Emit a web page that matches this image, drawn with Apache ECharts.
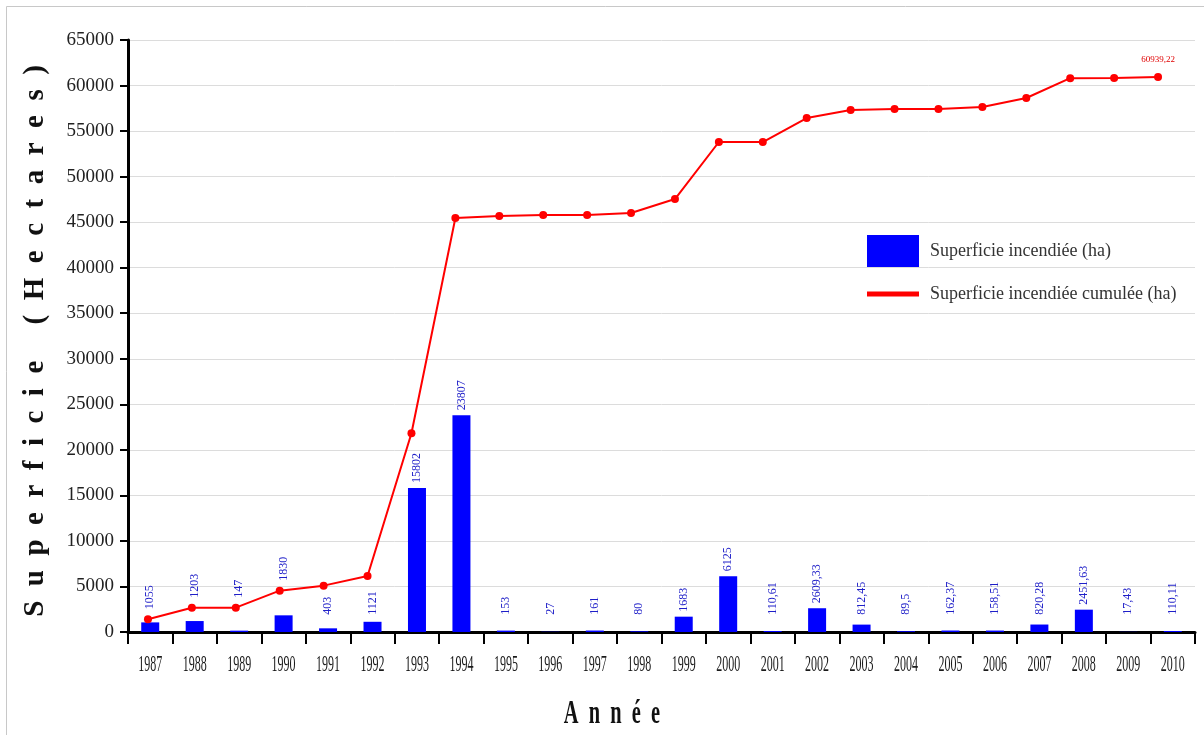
<!DOCTYPE html>
<html>
<head>
<meta charset="utf-8">
<script src="https://cdn.jsdelivr.net/npm/echarts@6/dist/echarts.min.js"></script>
<style>
html,body{margin:0;padding:0;background:#fff;}
#main{width:1204px;height:735px;}
</style>
</head>
<body>
<div id="main"></div>
<script>
// ---- data ----
const years = ['1987','1988','1989','1990','1991','1992','1993','1994','1995','1996','1997','1998','1999','2000','2001','2002','2003','2004','2005','2006','2007','2008','2009','2010'];
const burned = [1055, 1203, 147, 1830, 403, 1121, 15802, 23807, 153, 27, 161, 80, 1683, 6125, 110.61, 2609.33, 812.45, 89.5, 162.37, 158.51, 820.28, 2451.63, 17.43, 110.11];
const cumulative = [1400, 2670, 2670, 4540, 5090, 6150, 21820, 45450, 45670, 45780, 45780, 46000, 47540, 53800, 53800, 56430, 57310, 57420, 57420, 57640, 58630, 60810, 60830, 60939.22];
const yMin = 0, yMax = 65000, yStep = 5000;
const barName = 'Superficie incendiée (ha)';
const lineName = 'Superficie incendiée cumulée (ha)';
const yTitle = 'Superficie (Hectares)';
const xTitle = 'Année';

const fmt = v => String(v).replace('.', ',');
const serif = '"Liberation Serif", "Times New Roman", serif';

const chart = echarts.init(document.getElementById('main'), null, {renderer: 'canvas'});

const option = {
  animation: false,
  backgroundColor: '#fff',
  grid: [
    {left: 128, top: 40, width: 1067, height: 592},
    {left: 126, top: 40, width: 1054, height: 592}
  ],
  legend: [
    {data: [barName], left: 862, top: 230, itemWidth: 52, itemHeight: 32, icon: 'rect',
     textStyle: {fontFamily: serif, fontSize: 18, color: '#333', padding: [0,0,0,6]}},
    {data: [lineName], left: 862, top: 280, itemWidth: 52, itemHeight: 5, icon: 'rect',
     textStyle: {fontFamily: serif, fontSize: 18, color: '#333', padding: [0,0,0,6]}}
  ],
  xAxis: [
    {type: 'category', data: years, gridIndex: 0, boundaryGap: true,
     axisLine: {lineStyle: {color: '#000', width: 3}},
     axisTick: {show: true, length: 12, alignWithLabel: false, lineStyle: {color: '#000', width: 2}},
     axisLabel: {show: false}, splitLine: {show: false}},
    {type: 'category', data: years, gridIndex: 1, show: false, boundaryGap: true}
  ],
  yAxis: [
    {type: 'value', gridIndex: 0, min: yMin, max: yMax, interval: yStep,
     axisLine: {show: true, lineStyle: {color: '#000', width: 3}},
     axisTick: {show: true, length: 8, lineStyle: {color: '#000', width: 2}},
     axisLabel: {fontFamily: serif, fontSize: 19, color: '#222', margin: 14, formatter: v => String(v)},
     splitLine: {show: true, lineStyle: {color: '#dcdcdc', width: 1}},
     name: yTitle.split('').join('  '), nameLocation: 'middle', nameGap: 78, nameRotate: 90,
     nameTextStyle: {fontFamily: serif, fontWeight: 'bold', fontSize: 29, color: '#111', padding: [0, 10, 0, 0]}},
    {type: 'value', gridIndex: 1, min: yMin, max: yMax, interval: yStep, show: false, splitLine: {show: false}}
  ],
  series: [
    {name: barName, type: 'bar', xAxisIndex: 0, yAxisIndex: 0, barWidth: 18,
     data: burned.slice(),
     itemStyle: {color: '#0000ff'},
     label: {show: true, position: 'top', rotate: 90, align: 'left', verticalAlign: 'middle', distance: 5,
             formatter: p => fmt(p.value), color: '#1e1ec8', fontSize: 12, fontFamily: serif}},
    {name: lineName, type: 'line', xAxisIndex: 1, yAxisIndex: 1, z: 5,
     data: cumulative.map((v, i) => i === cumulative.length - 1 ? {value: v, label: {show: true}} : v),
     symbol: 'circle', symbolSize: 8, showAllSymbol: true,
     itemStyle: {color: '#ff0000'}, lineStyle: {color: '#ff0000', width: 2},
     label: {show: false, position: 'top', distance: 9, color: '#e00000', fontSize: 9, fontFamily: serif,
             formatter: p => fmt(p.value)}}
  ]
};
chart.setOption(option);

// second pass: label offsets & axis texts computed from the library's scales
const labelFloor = chart.convertToPixel({yAxisIndex: 0}, 1900);
const barData = burned.map((v, i) => {
  const top = chart.convertToPixel({xAxisIndex: 0, yAxisIndex: 0}, [i, v])[1];
  const pt = chart.convertToPixel({yAxisIndex: 1}, cumulative[i]);
  let bottom = Math.min(top - 5, labelFloor);
  if (Math.abs(pt - labelFloor) < 25) bottom = Math.min(bottom, pt - 10);
  return {value: v, label: {distance: top - bottom}};
});
const baseY = chart.convertToPixel({yAxisIndex: 0}, 0);
const graphics = years.map((y, i) => ({
  type: 'text',
  x: chart.convertToPixel({xAxisIndex: 0}, y),
  y: baseY + 33,
  scaleX: 0.5,
  silent: true,
  style: {text: y, x: 0, y: 0, textAlign: 'center', textVerticalAlign: 'middle',
          font: '24px ' + serif, fill: '#1a1a1a'}
}));
graphics.push({
  type: 'text', x: 612, y: baseY + 82, scaleX: 0.6, silent: true,
  style: {text: xTitle.split('').join('  '), x: 0, y: 0, textAlign: 'center', textVerticalAlign: 'middle',
          font: 'bold 34px ' + serif, fill: '#111'}
});
graphics.push({
  type: 'rect', silent: true, z: -1,
  shape: {x: 6.5, y: 6.5, width: 1250, height: 800},
  style: {fill: 'none', stroke: '#c8c8c8', lineWidth: 1}
});
chart.setOption({series: [{data: barData}], graphic: graphics});
</script>
</body>
</html>
